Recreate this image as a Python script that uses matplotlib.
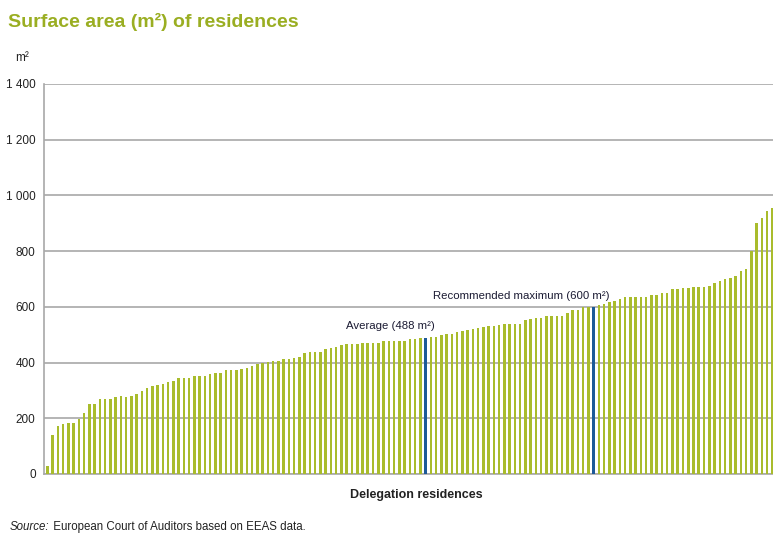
import matplotlib
matplotlib.use("Agg")
import matplotlib.pyplot as plt

# surface area of each delegation residence, sorted (m2)
areas = [
    28, 140, 171, 180, 184, 183, 196, 220, 251, 251,
    269, 271, 271, 278, 280, 278, 280, 286, 298, 308,
    316, 319, 323, 331, 335, 344, 346, 346, 352, 352,
    352, 358, 362, 364, 372, 374, 374, 378, 382, 386,
    396, 399, 402, 404, 406, 413, 413, 416, 419, 436,
    437, 438, 438, 450, 453, 457, 462, 465, 466, 467,
    471, 471, 471, 472, 477, 477, 479, 479, 479, 484,
    485, 488, 488, 491, 492, 498, 501, 503, 510, 513,
    516, 521, 523, 527, 531, 531, 534, 537, 537, 537,
    540, 552, 556, 559, 559, 567, 568, 568, 568, 577,
    587, 590, 599, 600, 600, 607, 610, 616, 620, 628,
    636, 636, 636, 636, 636, 641, 641, 648, 650, 663,
    663, 666, 668, 670, 672, 673, 674, 685, 693, 700,
    705, 711, 730, 737, 800, 900, 920, 943, 955,
]
avg_idx = 72
rec_idx = 104
avg_label = "Average (488 m²)"
rec_label = "Recommended maximum (600 m²)"
yticks = [0, 200, 400, 600, 800, 1000, 1200, 1400]
ytick_labels = ["0", "200", "400", "600", "800", "1 000", "1 200", "1 400"]

plt.rcParams["font.family"] = ["Liberation Sans", "DejaVu Sans"]

green = "#a9bc2c"
blue = "#1d5a98"
grid = "#a8a8a8"
dark = "#222222"

fig = plt.figure(figsize=(7.73, 5.33), dpi=100)
ax = fig.add_axes([44 / 773, 59 / 533, 729 / 773, 390 / 533])

x = list(range(len(areas)))
colors = [green] * len(areas)
widths = [0.48] * len(areas)
for i in (avg_idx, rec_idx):
    colors[i] = blue
    widths[i] = 0.62
ax.bar(x, areas, width=widths, color=colors, zorder=3)

ax.set_xlim(-0.62, len(areas) - 0.87)
ax.set_ylim(0, 1400)
ax.set_yticks(yticks)
ax.set_yticklabels(ytick_labels, fontsize=8.5, color=dark)
ax.set_xticks([])
ax.tick_params(axis="y", length=0, pad=6)
ax.grid(axis="y", color=grid, linewidth=1.2, zorder=1)
for s in ("top", "right"):
    ax.spines[s].set_visible(False)
for s in ("left", "bottom"):
    ax.spines[s].set_color(grid)
    ax.spines[s].set_linewidth(1.2)

ax.text(avg_idx + 1.8, 512, avg_label, ha="right", va="bottom",
        fontsize=8.2, color="#1b1b33")
ax.text(rec_idx + 3.1, 620, rec_label, ha="right", va="bottom",
        fontsize=8.2, color="#1b1b33")

fig.text(8 / 773, 1 - 22 / 533, "Surface area (m²) of residences", ha="left", va="center",
         fontsize=14, fontweight="bold", color="#9aae22")
fig.text(15 / 773, 1 - 58 / 533, "m²", ha="left", va="center", fontsize=8.5, color=dark)
fig.text(416 / 773, 1 - 495 / 533, "Delegation residences", ha="center", va="center",
         fontsize=9, fontweight="bold", color=dark)
src = fig.text(10 / 773, 1 - 527 / 533, "Source:", ha="left", va="center",
               fontsize=8.3, fontstyle="italic", color=dark)
ax.annotate(" European Court of Auditors based on EEAS data.", xy=(1, 0.5), xycoords=src,
            ha="left", va="center", fontsize=8.3, color=dark, annotation_clip=False)

fig.savefig("out.png", dpi=100)
